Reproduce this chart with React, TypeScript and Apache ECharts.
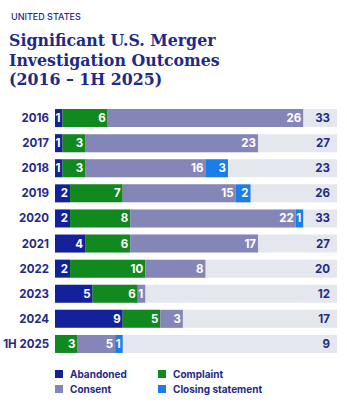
import React, { useEffect, useRef } from "react";
import * as echarts from "echarts";

const categories = ["2016", "2017", "2018", "2019", "2020", "2021", "2022", "2023", "2024", "1H 2025"];
const abandoned = [1, 1, 1, 2, 2, 4, 2, 5, 9, 0];
const complaint = [6, 3, 3, 7, 8, 6, 10, 6, 5, 3];
const consent = [26, 23, 16, 15, 22, 17, 8, 1, 3, 5];
const closing = [0, 0, 3, 2, 1, 0, 0, 0, 0, 1];
const totals = [33, 27, 23, 26, 33, 27, 20, 12, 17, 9];

const NAVY = "#1f2a85";
const SANS = "Inter, 'Noto Sans', sans-serif";

export default function App() {
  const ref = useRef<HTMLDivElement>(null);
  useEffect(() => {
    document.body.style.margin = "0";
    const chart = echarts.init(ref.current!, null, { renderer: "svg" });
    const label = {
      show: true,
      position: "insideRight",
      distance: 2,
      color: "#ffffff",
      fontFamily: SANS,
      fontWeight: "bold",
      fontSize: 11.5,
      formatter: (p: any) => (p.value ? String(p.value) : ""),
    };
    const mk = (name: string, data: number[], color: string, bg = false) => ({
      name,
      type: "bar",
      stack: "total",
      data,
      barWidth: 18,
      itemStyle: { color },
      label,
      showBackground: bg,
      backgroundStyle: { color: "#e5e7ef" },
    });
    const legendText = {
      fontFamily: SANS,
      fontSize: 10,
      fontWeight: "bold",
      color: NAVY,
      padding: [0, 0, 0, 2],
    };
    chart.setOption({
      animation: false,
      title: [
        {
          text: "UNITED STATES",
          left: 6,
          top: 7,
          textStyle: { fontFamily: SANS, fontSize: 9, fontWeight: 500, color: NAVY },
        },
        {
          text: "Significant U.S. Merger\nInvestigation Outcomes\n(2016 – 1H 2025)",
          left: 4,
          top: 26,
          textStyle: {
            fontFamily: "'DejaVu Serif', serif",
            fontSize: 15.8,
            lineHeight: 19.5,
            fontWeight: "bold",
            color: NAVY,
          },
        },
      ],
      legend: [
        {
          data: ["Abandoned", "Consent"],
          orient: "vertical",
          left: 50,
          top: 364,
          itemWidth: 8,
          itemHeight: 8,
          itemGap: 5,
          icon: "rect",
          textStyle: legendText,
        },
        {
          data: ["Complaint", "Closing statement"],
          orient: "vertical",
          left: 153,
          top: 364,
          itemWidth: 8,
          itemHeight: 8,
          itemGap: 5,
          icon: "rect",
          textStyle: legendText,
        },
      ],
      grid: { left: 55, width: 282, top: 105.5, height: 251 },
      xAxis: { type: "value", min: 0, max: 37.5, show: false },
      yAxis: [
        {
          type: "category",
          data: categories,
          inverse: true,
          axisLine: { show: false },
          axisTick: { show: false },
          axisLabel: { margin: 6, color: NAVY, fontFamily: SANS, fontWeight: "bold", fontSize: 11.5 },
        },
        {
          type: "category",
          data: totals.map(String),
          inverse: true,
          position: "right",
          z: 10,
          axisLine: { show: false },
          axisTick: { show: false },
          axisLabel: { inside: true, margin: 7, color: NAVY, fontFamily: SANS, fontWeight: "bold", fontSize: 11.5 },
        },
      ],
      series: [
        mk("Abandoned", abandoned, "#13219a", true),
        mk("Complaint", complaint, "#12891e"),
        mk("Consent", consent, "#8586b8"),
        mk("Closing statement", closing, "#1a7de8"),
      ],
    });
    return () => chart.dispose();
  }, []);
  return <div ref={ref} style={{ width: 347, height: 402 }} />;
}
